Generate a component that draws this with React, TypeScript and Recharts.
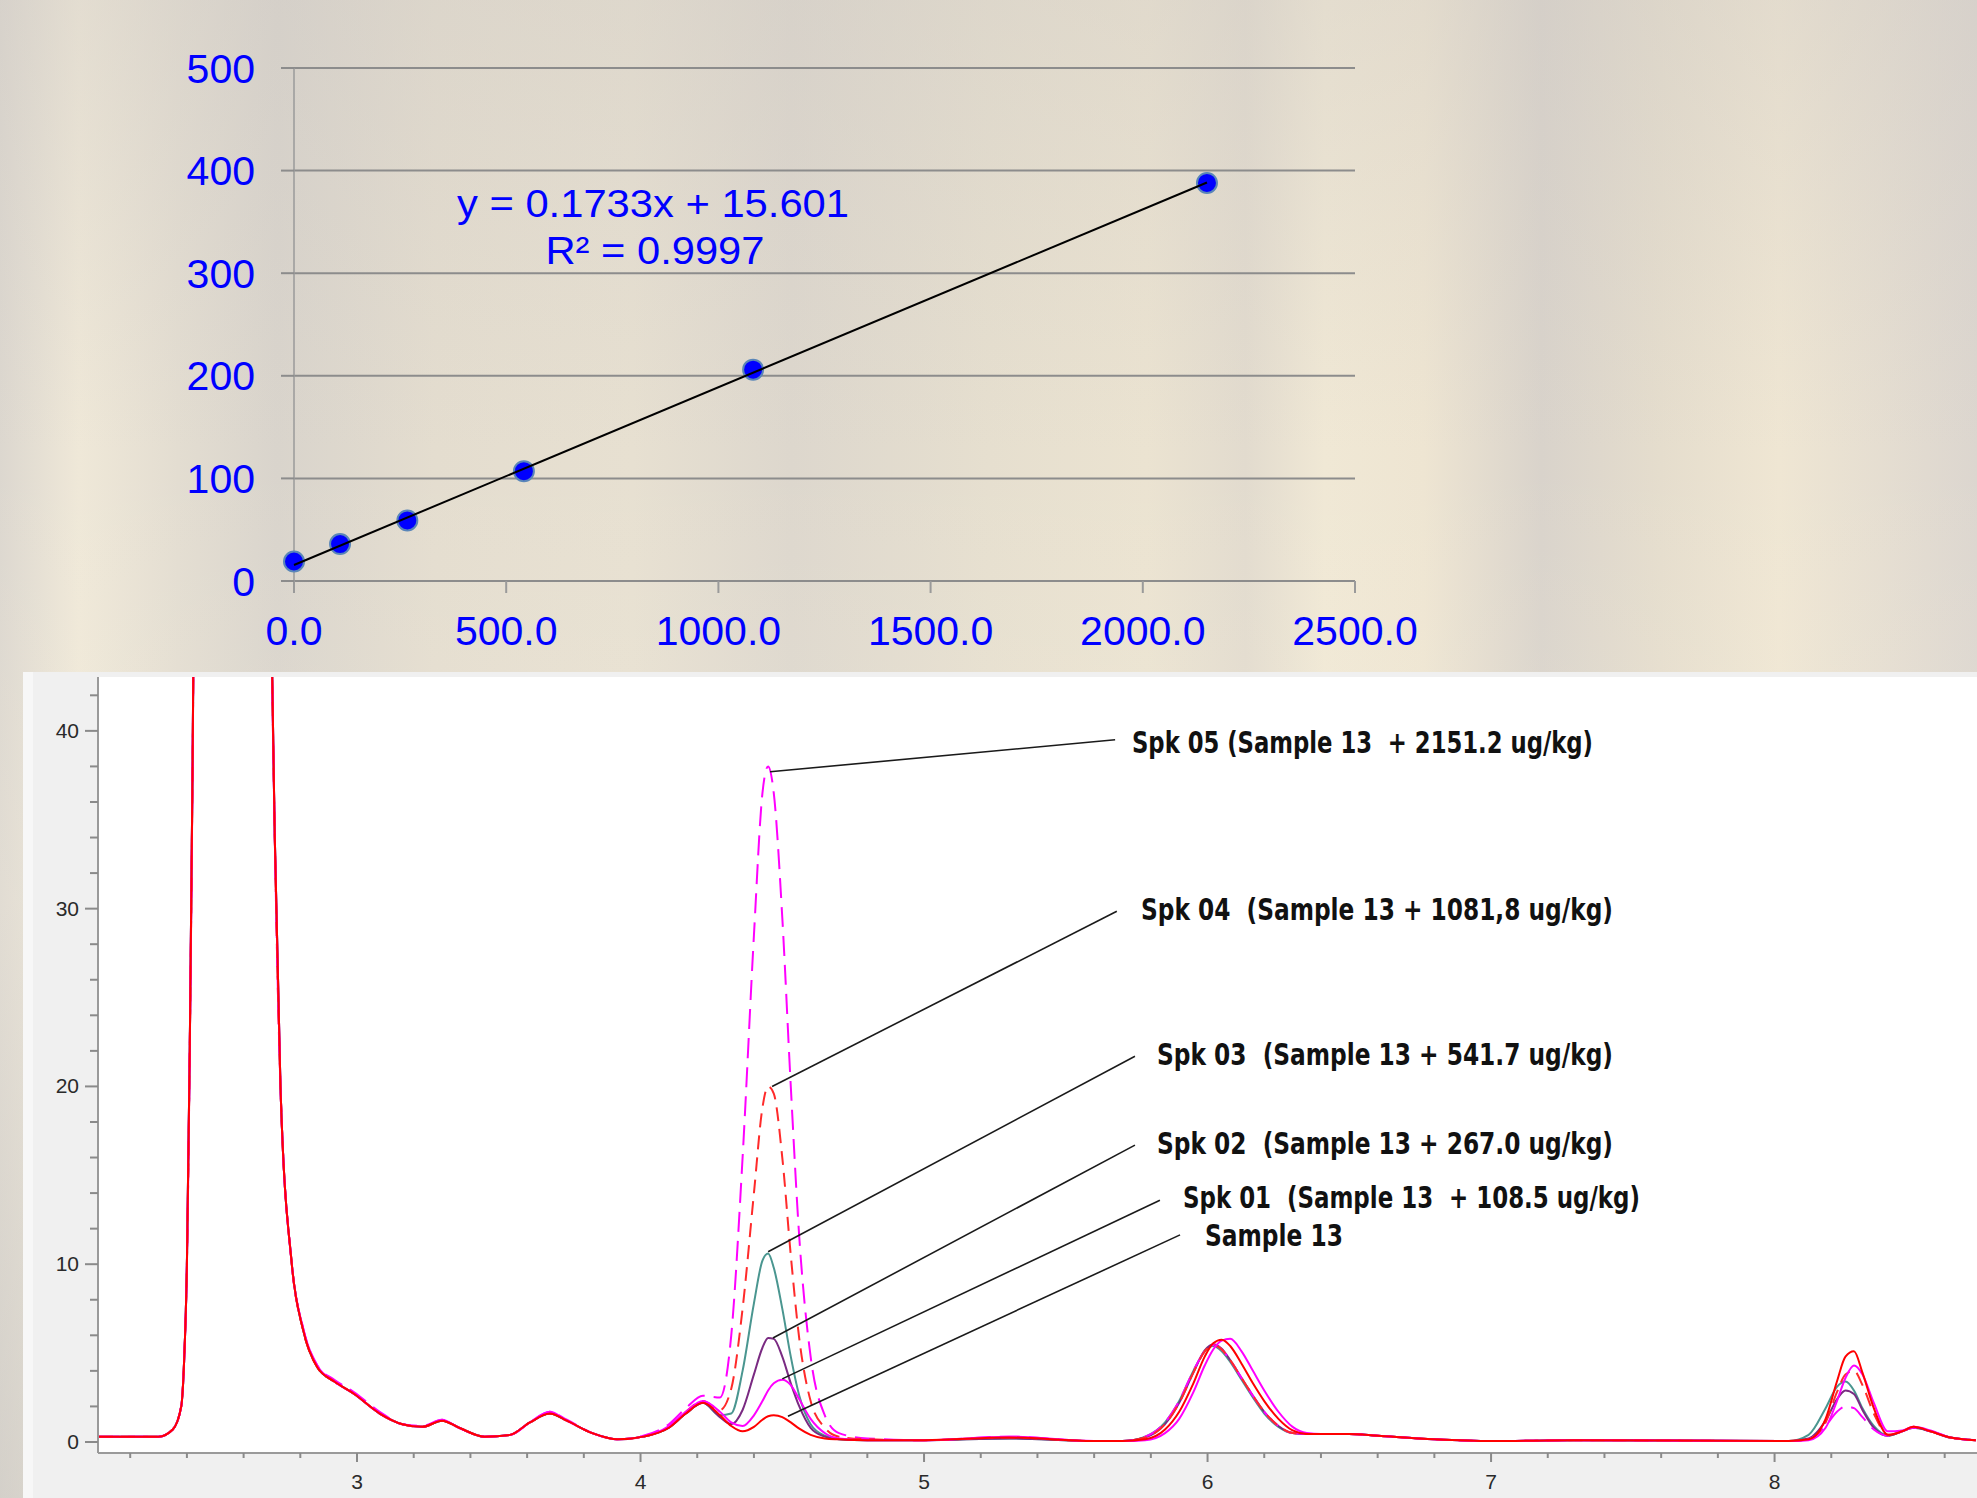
import React from "react";
import {
  ScatterChart,
  Scatter,
  LineChart,
  Line,
  XAxis,
  YAxis,
  CartesianGrid,
  ReferenceLine,
} from "recharts";

// ---- calibration curve (top) ----
const CAL_X = [0, 108.5, 267.0, 541.7, 1081.8, 2151.2];
const CAL_Y = [19, 36, 59, 107, 206, 388];
const TREND_X = [0, 2151.2];
const TREND_Y = [15.6, 388.4];
const CAL_X_TICKS = [0, 500, 1000, 1500, 2000, 2500];
const CAL_Y_TICKS = [0, 100, 200, 300, 400, 500];
const EQUATION = "y = 0.1733x + 15.601";
const R_SQUARED = "R² = 0.9997";

// ---- chromatogram (bottom) ----
// retention time, min
const RT = [
  2.09, 2.3, 2.35, 2.38, 2.39, 2.4, 2.41, 2.42, 2.43, 2.5, 2.6, 2.68, 2.7, 2.71, 2.73, 2.77, 2.81, 2.86, 2.92, 2.99,
  3.08, 3.16, 3.23, 3.3, 3.36, 3.45, 3.54, 3.61, 3.68, 3.74, 3.83, 3.92, 4.01, 4.1, 4.16,
  4.22, 4.28, 4.32, 4.36, 4.4, 4.43, 4.45, 4.47, 4.5, 4.53, 4.56, 4.6, 4.65, 4.7, 4.8,
  5.0, 5.3, 5.6,
  5.7, 5.78, 5.85, 5.9, 5.95, 5.99, 6.02, 6.05, 6.08, 6.12, 6.16, 6.2, 6.25, 6.3, 6.35, 6.4, 6.5, 6.6, 6.8, 7.0, 7.3,
  8.05, 8.12, 8.18, 8.22, 8.25, 8.28, 8.31, 8.35, 8.4, 8.45, 8.49, 8.55, 8.62, 8.71,
];

const SAMPLE13 = [
  0.3, 0.3, 0.7, 2.0, 4.5, 10, 22, 38, 60, 200, 220, 80, 44, 34, 20, 10, 6.3, 4.2, 3.4, 2.7,
  1.6, 1.0, 0.85, 1.2, 0.8, 0.3, 0.4, 1.1, 1.6, 1.2, 0.5, 0.15, 0.3, 0.8, 1.6,
  2.2, 1.5, 0.9, 0.6, 0.85, 1.25, 1.45, 1.5, 1.4, 1.1, 0.75, 0.4, 0.2, 0.15, 0.1,
  0.1, 0.25, 0.05,
  0.05, 0.15, 0.7, 1.7, 3.3, 4.8, 5.55, 5.75, 5.4, 4.4, 3.3, 2.3, 1.3, 0.65, 0.45, 0.45, 0.45, 0.35, 0.15, 0.05, 0.1,
  0.05, 0.15, 1.3, 3.4, 4.8, 5.1, 3.9, 1.9, 0.4, 0.6, 0.85, 0.6, 0.25, 0.1,
];

const SPK01 = [
  0.3, 0.3, 0.7, 2.0, 4.5, 10, 22, 38, 60, 200, 220, 80, 44, 34, 20, 10, 6.4, 4.3, 3.4, 2.7,
  1.6, 1.0, 0.85, 1.25, 0.8, 0.3, 0.4, 1.1, 1.7, 1.2, 0.5, 0.15, 0.3, 0.9, 1.7,
  2.3, 1.7, 1.1, 0.9, 1.5, 2.3, 2.9, 3.3, 3.5, 3.2, 2.4, 1.3, 0.5, 0.2, 0.1,
  0.1, 0.3, 0.05,
  0.05, 0.1, 0.5, 1.3, 2.8, 4.3, 5.2, 5.7, 5.8, 5.1, 4.0, 2.9, 1.7, 0.85, 0.5, 0.45, 0.45, 0.35, 0.15, 0.05, 0.1,
  0.05, 0.1, 0.8, 2.3, 3.6, 4.3, 3.8, 2.2, 0.6, 0.65, 0.85, 0.65, 0.25, 0.1,
];

const SPK02 = [
  0.3, 0.3, 0.7, 2.0, 4.5, 10, 22, 38, 60, 200, 220, 80, 44, 34, 20, 10, 6.3, 4.2, 3.4, 2.7,
  1.6, 1.0, 0.85, 1.2, 0.8, 0.3, 0.4, 1.1, 1.6, 1.2, 0.5, 0.15, 0.3, 0.8, 1.6,
  2.2, 1.4, 1.0, 1.8, 3.8, 5.3, 5.85, 5.8, 4.8, 3.3, 2.0, 0.8, 0.3, 0.15, 0.1,
  0.1, 0.2, 0.05,
  0.05, 0.25, 1.0, 2.2, 3.9, 5.15, 5.5, 5.25, 4.6, 3.6, 2.6, 1.7, 0.9, 0.5, 0.45, 0.45, 0.45, 0.35, 0.15, 0.05, 0.1,
  0.05, 0.2, 1.2, 2.4, 2.9, 2.7, 1.8, 0.8, 0.35, 0.6, 0.8, 0.6, 0.25, 0.1,
];

const SPK03 = [
  0.3, 0.3, 0.7, 2.0, 4.5, 10, 22, 38, 60, 200, 220, 80, 44, 34, 20, 10, 6.3, 4.2, 3.4, 2.7,
  1.6, 1.0, 0.85, 1.2, 0.8, 0.3, 0.4, 1.1, 1.6, 1.2, 0.5, 0.15, 0.3, 0.8, 1.6,
  2.2, 1.5, 1.6, 4.0, 7.8, 10.2, 10.6, 9.8, 7.5, 4.8, 2.6, 1.0, 0.35, 0.15, 0.1,
  0.1, 0.2, 0.05,
  0.05, 0.3, 1.1, 2.3, 4.0, 5.1, 5.4, 5.1, 4.5, 3.5, 2.5, 1.6, 0.85, 0.5, 0.45, 0.45, 0.45, 0.35, 0.15, 0.05, 0.1,
  0.05, 0.4, 1.9, 3.1, 3.4, 2.9, 1.9, 0.9, 0.35, 0.6, 0.8, 0.6, 0.25, 0.1,
];

const SPK04 = [
  0.3, 0.3, 0.7, 2.0, 4.5, 10, 22, 38, 60, 200, 220, 80, 44, 34, 20, 10, 6.3, 4.2, 3.4, 2.7,
  1.6, 1.0, 0.85, 1.2, 0.8, 0.3, 0.4, 1.1, 1.6, 1.2, 0.5, 0.15, 0.3, 0.85, 1.7,
  2.3, 1.8, 3.0, 7.5, 14.0, 18.8, 20.0, 19.6, 16.0, 10.5, 5.8, 2.3, 0.8, 0.3, 0.15,
  0.1, 0.25, 0.05,
  0.05, 0.25, 1.0, 2.2, 3.9, 5.1, 5.45, 5.2, 4.6, 3.6, 2.6, 1.7, 0.9, 0.5, 0.45, 0.45, 0.45, 0.35, 0.15, 0.05, 0.1,
  0.05, 0.15, 1.1, 2.8, 3.8, 4.0, 3.2, 1.6, 0.4, 0.6, 0.85, 0.6, 0.25, 0.1,
];

const SPK05 = [
  0.3, 0.3, 0.7, 2.0, 4.5, 10, 22, 38, 60, 200, 220, 80, 44, 34, 20, 10, 6.4, 4.3, 3.5, 2.8,
  1.7, 1.0, 0.9, 1.25, 0.8, 0.3, 0.4, 1.1, 1.7, 1.25, 0.5, 0.15, 0.35, 1.0, 1.9,
  2.6, 2.5, 6.0, 16.0, 28.5, 36.5, 38.0, 36.5, 29.5, 20.0, 11.5, 4.8, 1.5, 0.5, 0.2,
  0.1, 0.3, 0.05,
  0.05, 0.3, 1.1, 2.3, 4.0, 5.1, 5.45, 5.2, 4.6, 3.6, 2.6, 1.7, 0.9, 0.5, 0.45, 0.45, 0.45, 0.35, 0.15, 0.05, 0.1,
  0.05, 0.15, 0.9, 1.7, 2.0, 1.9, 1.4, 0.7, 0.35, 0.6, 0.8, 0.6, 0.25, 0.1,
];

const RT_TICKS = [
  2.2, 2.4, 2.6, 2.8, 3, 3.2, 3.4, 3.6, 3.8, 4, 4.2, 4.4, 4.6, 4.8, 5, 5.2, 5.4, 5.6, 5.8,
  6, 6.2, 6.4, 6.6, 6.8, 7, 7.2, 7.4, 7.6, 7.8, 8, 8.2, 8.4, 8.6,
];
const SIGNAL_TICKS = [0, 2, 4, 6, 8, 10, 12, 14, 16, 18, 20, 22, 24, 26, 28, 30, 32, 34, 36, 38, 40, 42];

// leader lines: [peak x, peak y, label x, label y]
const LEADERS = [
  [4.457, 37.7, 5.674, 39.5],
  [4.464, 20.0, 5.68, 29.85],
  [4.45, 10.7, 5.744, 21.7],
  [4.467, 5.85, 5.744, 16.7],
  [4.5, 3.55, 5.832, 13.6],
  [4.52, 1.45, 5.903, 11.65],
];

const LABELS = [
  "Spk 05 (Sample 13  + 2151.2 ug/kg)",
  "Spk 04  (Sample 13 + 1081,8 ug/kg)",
  "Spk 03  (Sample 13 + 541.7 ug/kg)",
  "Spk 02  (Sample 13 + 267.0 ug/kg)",
  "Spk 01  (Sample 13  + 108.5 ug/kg)",
  "Sample 13",
];
// text placement on the page: left, baseline, width
const LABEL_BOX = [
  [1132, 753, 461],
  [1141, 920, 472],
  [1157, 1065, 456],
  [1157, 1154, 456],
  [1183, 1208, 457],
  [1205, 1246, 138],
];

const calData = CAL_X.map((x, i) => ({ x, y: CAL_Y[i] }));
const trendData = TREND_X.map((x, i) => ({ x, y: TREND_Y[i] }));
const chromData = RT.map((t, i) => ({
  t,
  s13: SAMPLE13[i],
  s01: SPK01[i],
  s02: SPK02[i],
  s03: SPK03[i],
  s04: SPK04[i],
  s05: SPK05[i],
}));

const BLUE = "#0000ff";
const AXIS_FONT = "'Liberation Sans', Arial, sans-serif";

const Dot = (props: any) => (
  <circle cx={props.cx} cy={props.cy} r={10} fill={BLUE} stroke="#5a86b8" strokeWidth={2} />
);
const NoDot = () => <g />;

const isMajor = (v: number) => Math.abs(v - Math.round(v)) < 1e-6;

const RtTick = (props: any) => {
  const { x, y, payload } = props;
  const v = payload.value as number;
  const major = isMajor(v);
  return (
    <g>
      <line x1={x} y1={y} x2={x} y2={y + (major ? 9 : 5)} stroke="#8a8a8a" strokeWidth={2} />
      {major && (
        <text x={x} y={y + 36} textAnchor="middle" fontSize={21} fontFamily={AXIS_FONT} fill="#2a2a2a">
          {Math.round(v)}
        </text>
      )}
    </g>
  );
};

const SignalTick = (props: any) => {
  const { x, y, payload } = props;
  const v = payload.value as number;
  const major = v % 10 === 0;
  return (
    <g>
      <line x1={x - (major ? 13 : 8)} y1={y} x2={x} y2={y} stroke="#8a8a8a" strokeWidth={2} />
      {major && (
        <text x={x - 19} y={y + 7} textAnchor="end" fontSize={21} fontFamily={AXIS_FONT} fill="#2a2a2a">
          {v}
        </text>
      )}
    </g>
  );
};

const PHOTO_BG =
  "linear-gradient(180deg, rgba(205,200,195,0.35) 0%, rgba(255,255,255,0) 30%, rgba(255,250,235,0.15) 60%, rgba(200,198,194,0.4) 100%)," +
  "linear-gradient(90deg, #dcd7cf 0%, #efe8d8 4%, #e3ddd1 9%, #d9d4cc 14%, #e4ddcf 22%, #e7e0d1 32%, #ddd7cd 40%, #e6dfcf 50%, #ebe3d1 58%, #e2dbce 63%, #f0e8d5 67%, #eee5d2 72%, #d9d3cb 78%, #e5ddcd 84%, #efe6d3 90%, #dcd6cf 100%)";

export default function App() {
  return (
    <div
      style={{
        position: "absolute",
        left: 0,
        top: 0,
        width: 1977,
        height: 1498,
        overflow: "hidden",
        background: PHOTO_BG,
      }}
    >
      {/* calibration curve */}
      <div style={{ position: "absolute", left: 0, top: 0 }}>
        <ScatterChart width={1977} height={672} margin={{ top: 68, right: 622, bottom: 31, left: 234 }}>
          <CartesianGrid vertical={false} stroke="#8c8c8c" strokeWidth={2} />
          <XAxis
            type="number"
            dataKey="x"
            domain={[0, 2500]}
            ticks={CAL_X_TICKS}
            interval={0}
            height={60}
            tickSize={12}
            tickMargin={23}
            tickFormatter={(v: number) => v.toFixed(1)}
            axisLine={{ stroke: "#8c8c8c", strokeWidth: 2 }}
            tickLine={{ stroke: "#9a9a9a", strokeWidth: 2 }}
            tick={{ fill: BLUE, fontSize: 41, fontFamily: AXIS_FONT }}
          />
          <YAxis
            type="number"
            dataKey="y"
            domain={[0, 500]}
            ticks={CAL_Y_TICKS}
            interval={0}
            width={60}
            tickSize={13}
            tickMargin={26}
            axisLine={{ stroke: "#9a9a9a", strokeWidth: 1.5 }}
            tickLine={{ stroke: "#8c8c8c", strokeWidth: 2 }}
            tick={{ fill: BLUE, fontSize: 41, fontFamily: AXIS_FONT }}
          />
          <Scatter data={calData} shape={Dot} isAnimationActive={false} />
          <Scatter
            data={trendData}
            shape={NoDot}
            line={{ stroke: "#000000", strokeWidth: 2 }}
            isAnimationActive={false}
          />
        </ScatterChart>
      </div>

      {/* chromatogram panel */}
      <div
        style={{
          position: "absolute",
          left: 23,
          top: 672,
          width: 1954,
          height: 826,
          background: "#f0f0f0",
          borderLeft: "10px solid #f7f7f7",
          boxSizing: "border-box",
        }}
      />
      <div style={{ position: "absolute", left: 23, top: 672 }}>
        <LineChart width={1954} height={826} data={chromData} margin={{ top: 5, right: 0, bottom: 0, left: 0 }}>
          <CartesianGrid horizontal={false} vertical={false} fill="#ffffff" />
          <XAxis
            type="number"
            dataKey="t"
            domain={[2.0864, 8.714]}
            allowDataOverflow
            ticks={RT_TICKS}
            interval={0}
            height={45}
            tickSize={0}
            tickMargin={0}
            tickLine={false}
            axisLine={{ stroke: "#9a9a9a", strokeWidth: 2 }}
            tick={RtTick}
          />
          <YAxis
            type="number"
            domain={[-0.62, 43.03]}
            allowDataOverflow
            ticks={SIGNAL_TICKS}
            interval={0}
            width={75}
            tickSize={0}
            tickMargin={0}
            tickLine={false}
            axisLine={{ stroke: "#9a9a9a", strokeWidth: 2 }}
            tick={SignalTick}
          />
          <Line dataKey="s03" type="monotone" stroke="#4a9690" strokeWidth={2} dot={false} isAnimationActive={false} />
          <Line dataKey="s02" type="monotone" stroke="#7a2a82" strokeWidth={2} dot={false} isAnimationActive={false} />
          <Line
            dataKey="s05"
            type="monotone"
            stroke="#ff00ff"
            strokeWidth={2}
            strokeDasharray="20 9"
            dot={false}
            isAnimationActive={false}
          />
          <Line
            dataKey="s04"
            type="monotone"
            stroke="#ff2a2a"
            strokeWidth={2}
            strokeDasharray="14 8"
            dot={false}
            isAnimationActive={false}
          />
          <Line dataKey="s01" type="monotone" stroke="#ff00ff" strokeWidth={2} dot={false} isAnimationActive={false} />
          <Line dataKey="s13" type="monotone" stroke="#ff0000" strokeWidth={2} dot={false} isAnimationActive={false} />
          {LEADERS.map((l, i) => (
            <ReferenceLine
              key={i}
              segment={[
                { x: l[0], y: l[1] },
                { x: l[2], y: l[3] },
              ]}
              stroke="#1a1a1a"
              strokeWidth={1.6}
              ifOverflow="visible"
            />
          ))}
        </LineChart>
      </div>

      {/* text layer */}
      <svg
        width={1977}
        height={1498}
        style={{ position: "absolute", left: 0, top: 0, pointerEvents: "none" }}
      >
        <text
          x={653}
          y={217}
          textAnchor="middle"
          fontSize={38}
          fontFamily={AXIS_FONT}
          fill={BLUE}
          textLength={392}
          lengthAdjust="spacingAndGlyphs"
        >
          {EQUATION}
        </text>
        <text
          x={655}
          y={264}
          textAnchor="middle"
          fontSize={38}
          fontFamily={AXIS_FONT}
          fill={BLUE}
          textLength={219}
          lengthAdjust="spacingAndGlyphs"
        >
          {R_SQUARED}
        </text>
        {LABELS.map((s, i) => (
          <text
            key={i}
            x={LABEL_BOX[i][0]}
            y={LABEL_BOX[i][1]}
            fontSize={30}
            fontWeight="bold"
            fontFamily="'Liberation Sans Narrow', 'DejaVu Sans Condensed', 'Liberation Sans', sans-serif"
            fill="#111111"
            textLength={LABEL_BOX[i][2]}
            lengthAdjust="spacingAndGlyphs"
            style={{ whiteSpace: "pre" }}
          >
            {s}
          </text>
        ))}
      </svg>
    </div>
  );
}
